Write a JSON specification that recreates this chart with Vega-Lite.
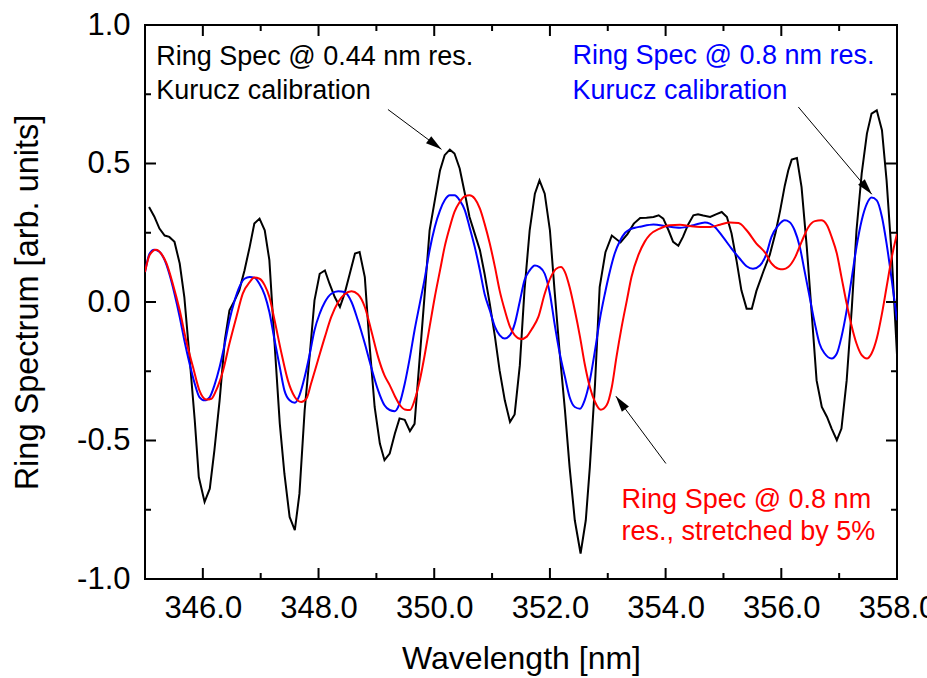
{
  "$schema": "https://vega.github.io/schema/vega-lite/v6.json",
  "width": 752,
  "height": 554,
  "autosize": {"type": "none"},
  "padding": {"left": 145, "top": 25, "right": 30, "bottom": 99},
  "background": "white",
  "config": {"view": {"stroke": "black", "strokeWidth": 2}, "font": "Liberation Sans", "text": {"font": "Liberation Sans"}},
  "datasets": {
    "frame_marks": [
      {"dim":"wl","level":"major","at":346},
      {"dim":"wl","level":"major","at":348},
      {"dim":"wl","level":"major","at":350},
      {"dim":"wl","level":"major","at":352},
      {"dim":"wl","level":"major","at":354},
      {"dim":"wl","level":"major","at":356},
      {"dim":"wl","level":"major","at":358},
      {"dim":"wl","level":"minor","at":345},
      {"dim":"wl","level":"minor","at":347},
      {"dim":"wl","level":"minor","at":349},
      {"dim":"wl","level":"minor","at":351},
      {"dim":"wl","level":"minor","at":353},
      {"dim":"wl","level":"minor","at":355},
      {"dim":"wl","level":"minor","at":357},
      {"dim":"rs","level":"major","at":-1},
      {"dim":"rs","level":"major","at":-0.5},
      {"dim":"rs","level":"major","at":0},
      {"dim":"rs","level":"major","at":0.5},
      {"dim":"rs","level":"major","at":1},
      {"dim":"rs","level":"minor","at":-0.75},
      {"dim":"rs","level":"minor","at":-0.25},
      {"dim":"rs","level":"minor","at":0.25},
      {"dim":"rs","level":"minor","at":0.75}
    ],
    "spectra": [
      {"series":"0.44 nm res.","wavelength":345.07,"value":0.343},
      {"series":"0.44 nm res.","wavelength":345.16,"value":0.309},
      {"series":"0.44 nm res.","wavelength":345.25,"value":0.265},
      {"series":"0.44 nm res.","wavelength":345.34,"value":0.240},
      {"series":"0.44 nm res.","wavelength":345.42,"value":0.235},
      {"series":"0.44 nm res.","wavelength":345.51,"value":0.217},
      {"series":"0.44 nm res.","wavelength":345.60,"value":0.139},
      {"series":"0.44 nm res.","wavelength":345.68,"value":0.018},
      {"series":"0.44 nm res.","wavelength":345.77,"value":-0.199},
      {"series":"0.44 nm res.","wavelength":345.86,"value":-0.427},
      {"series":"0.44 nm res.","wavelength":345.93,"value":-0.632},
      {"series":"0.44 nm res.","wavelength":346.03,"value":-0.722},
      {"series":"0.44 nm res.","wavelength":346.12,"value":-0.674},
      {"series":"0.44 nm res.","wavelength":346.20,"value":-0.535},
      {"series":"0.44 nm res.","wavelength":346.29,"value":-0.355},
      {"series":"0.44 nm res.","wavelength":346.38,"value":-0.138},
      {"series":"0.44 nm res.","wavelength":346.46,"value":-0.030},
      {"series":"0.44 nm res.","wavelength":346.55,"value":0.006},
      {"series":"0.44 nm res.","wavelength":346.63,"value":0.042},
      {"series":"0.44 nm res.","wavelength":346.72,"value":0.114},
      {"series":"0.44 nm res.","wavelength":346.81,"value":0.199},
      {"series":"0.44 nm res.","wavelength":346.89,"value":0.283},
      {"series":"0.44 nm res.","wavelength":346.98,"value":0.301},
      {"series":"0.44 nm res.","wavelength":347.07,"value":0.259},
      {"series":"0.44 nm res.","wavelength":347.15,"value":0.151},
      {"series":"0.44 nm res.","wavelength":347.24,"value":-0.150},
      {"series":"0.44 nm res.","wavelength":347.33,"value":-0.439},
      {"series":"0.44 nm res.","wavelength":347.41,"value":-0.620},
      {"series":"0.44 nm res.","wavelength":347.50,"value":-0.776},
      {"series":"0.44 nm res.","wavelength":347.59,"value":-0.824},
      {"series":"0.44 nm res.","wavelength":347.67,"value":-0.692},
      {"series":"0.44 nm res.","wavelength":347.76,"value":-0.391},
      {"series":"0.44 nm res.","wavelength":347.85,"value":-0.186},
      {"series":"0.44 nm res.","wavelength":347.93,"value":0.006},
      {"series":"0.44 nm res.","wavelength":348.02,"value":0.102},
      {"series":"0.44 nm res.","wavelength":348.11,"value":0.114},
      {"series":"0.44 nm res.","wavelength":348.19,"value":0.066},
      {"series":"0.44 nm res.","wavelength":348.28,"value":0.018},
      {"series":"0.44 nm res.","wavelength":348.37,"value":-0.018},
      {"series":"0.44 nm res.","wavelength":348.45,"value":0.030},
      {"series":"0.44 nm res.","wavelength":348.54,"value":0.102},
      {"series":"0.44 nm res.","wavelength":348.63,"value":0.175},
      {"series":"0.44 nm res.","wavelength":348.71,"value":0.180},
      {"series":"0.44 nm res.","wavelength":348.80,"value":0.090},
      {"series":"0.44 nm res.","wavelength":348.88,"value":-0.150},
      {"series":"0.44 nm res.","wavelength":348.97,"value":-0.379},
      {"series":"0.44 nm res.","wavelength":349.06,"value":-0.511},
      {"series":"0.44 nm res.","wavelength":349.14,"value":-0.571},
      {"series":"0.44 nm res.","wavelength":349.23,"value":-0.547},
      {"series":"0.44 nm res.","wavelength":349.32,"value":-0.475},
      {"series":"0.44 nm res.","wavelength":349.40,"value":-0.420},
      {"series":"0.44 nm res.","wavelength":349.49,"value":-0.425},
      {"series":"0.44 nm res.","wavelength":349.58,"value":-0.466},
      {"series":"0.44 nm res.","wavelength":349.66,"value":-0.440},
      {"series":"0.44 nm res.","wavelength":349.75,"value":-0.199},
      {"series":"0.44 nm res.","wavelength":349.84,"value":0.042},
      {"series":"0.44 nm res.","wavelength":349.92,"value":0.259},
      {"series":"0.44 nm res.","wavelength":350.01,"value":0.367},
      {"series":"0.44 nm res.","wavelength":350.10,"value":0.475},
      {"series":"0.44 nm res.","wavelength":350.18,"value":0.530},
      {"series":"0.44 nm res.","wavelength":350.27,"value":0.550},
      {"series":"0.44 nm res.","wavelength":350.35,"value":0.536},
      {"series":"0.44 nm res.","wavelength":350.44,"value":0.482},
      {"series":"0.44 nm res.","wavelength":350.53,"value":0.391},
      {"series":"0.44 nm res.","wavelength":350.61,"value":0.307},
      {"series":"0.44 nm res.","wavelength":350.70,"value":0.247},
      {"series":"0.44 nm res.","wavelength":350.79,"value":0.187},
      {"series":"0.44 nm res.","wavelength":350.87,"value":0.102},
      {"series":"0.44 nm res.","wavelength":350.96,"value":-0.006},
      {"series":"0.44 nm res.","wavelength":351.05,"value":-0.126},
      {"series":"0.44 nm res.","wavelength":351.13,"value":-0.247},
      {"series":"0.44 nm res.","wavelength":351.22,"value":-0.355},
      {"series":"0.44 nm res.","wavelength":351.31,"value":-0.433},
      {"series":"0.44 nm res.","wavelength":351.39,"value":-0.406},
      {"series":"0.44 nm res.","wavelength":351.48,"value":-0.228},
      {"series":"0.44 nm res.","wavelength":351.56,"value":0.042},
      {"series":"0.44 nm res.","wavelength":351.65,"value":0.259},
      {"series":"0.44 nm res.","wavelength":351.74,"value":0.391},
      {"series":"0.44 nm res.","wavelength":351.82,"value":0.439},
      {"series":"0.44 nm res.","wavelength":351.91,"value":0.391},
      {"series":"0.44 nm res.","wavelength":352.00,"value":0.259},
      {"series":"0.44 nm res.","wavelength":352.08,"value":0.042},
      {"series":"0.44 nm res.","wavelength":352.17,"value":-0.186},
      {"series":"0.44 nm res.","wavelength":352.26,"value":-0.391},
      {"series":"0.44 nm res.","wavelength":352.34,"value":-0.596},
      {"series":"0.44 nm res.","wavelength":352.43,"value":-0.788},
      {"series":"0.44 nm res.","wavelength":352.53,"value":-0.908},
      {"series":"0.44 nm res.","wavelength":352.62,"value":-0.788},
      {"series":"0.44 nm res.","wavelength":352.69,"value":-0.596},
      {"series":"0.44 nm res.","wavelength":352.78,"value":-0.295},
      {"series":"0.44 nm res.","wavelength":352.86,"value":0.054},
      {"series":"0.44 nm res.","wavelength":352.96,"value":0.180},
      {"series":"0.44 nm res.","wavelength":353.07,"value":0.240},
      {"series":"0.44 nm res.","wavelength":353.22,"value":0.215},
      {"series":"0.44 nm res.","wavelength":353.34,"value":0.245},
      {"series":"0.44 nm res.","wavelength":353.45,"value":0.283},
      {"series":"0.44 nm res.","wavelength":353.56,"value":0.303},
      {"series":"0.44 nm res.","wavelength":353.67,"value":0.304},
      {"series":"0.44 nm res.","wavelength":353.79,"value":0.307},
      {"series":"0.44 nm res.","wavelength":353.88,"value":0.313},
      {"series":"0.44 nm res.","wavelength":353.96,"value":0.301},
      {"series":"0.44 nm res.","wavelength":354.05,"value":0.259},
      {"series":"0.44 nm res.","wavelength":354.13,"value":0.217},
      {"series":"0.44 nm res.","wavelength":354.22,"value":0.203},
      {"series":"0.44 nm res.","wavelength":354.30,"value":0.235},
      {"series":"0.44 nm res.","wavelength":354.39,"value":0.280},
      {"series":"0.44 nm res.","wavelength":354.48,"value":0.313},
      {"series":"0.44 nm res.","wavelength":354.56,"value":0.317},
      {"series":"0.44 nm res.","wavelength":354.65,"value":0.312},
      {"series":"0.44 nm res.","wavelength":354.77,"value":0.307},
      {"series":"0.44 nm res.","wavelength":354.88,"value":0.317},
      {"series":"0.44 nm res.","wavelength":354.97,"value":0.325},
      {"series":"0.44 nm res.","wavelength":355.06,"value":0.307},
      {"series":"0.44 nm res.","wavelength":355.14,"value":0.247},
      {"series":"0.44 nm res.","wavelength":355.23,"value":0.145},
      {"series":"0.44 nm res.","wavelength":355.31,"value":0.042},
      {"series":"0.44 nm res.","wavelength":355.40,"value":-0.024},
      {"series":"0.44 nm res.","wavelength":355.49,"value":-0.024},
      {"series":"0.44 nm res.","wavelength":355.57,"value":0.040},
      {"series":"0.44 nm res.","wavelength":355.69,"value":0.110},
      {"series":"0.44 nm res.","wavelength":355.80,"value":0.170},
      {"series":"0.44 nm res.","wavelength":355.90,"value":0.250},
      {"series":"0.44 nm res.","wavelength":355.98,"value":0.330},
      {"series":"0.44 nm res.","wavelength":356.06,"value":0.420},
      {"series":"0.44 nm res.","wavelength":356.12,"value":0.475},
      {"series":"0.44 nm res.","wavelength":356.18,"value":0.514},
      {"series":"0.44 nm res.","wavelength":356.27,"value":0.520},
      {"series":"0.44 nm res.","wavelength":356.35,"value":0.415},
      {"series":"0.44 nm res.","wavelength":356.44,"value":0.199},
      {"series":"0.44 nm res.","wavelength":356.53,"value":-0.054},
      {"series":"0.44 nm res.","wavelength":356.61,"value":-0.283},
      {"series":"0.44 nm res.","wavelength":356.70,"value":-0.379},
      {"series":"0.44 nm res.","wavelength":356.79,"value":-0.415},
      {"series":"0.44 nm res.","wavelength":356.87,"value":-0.457},
      {"series":"0.44 nm res.","wavelength":356.96,"value":-0.499},
      {"series":"0.44 nm res.","wavelength":357.04,"value":-0.457},
      {"series":"0.44 nm res.","wavelength":357.13,"value":-0.283},
      {"series":"0.44 nm res.","wavelength":357.22,"value":-0.018},
      {"series":"0.44 nm res.","wavelength":357.30,"value":0.259},
      {"series":"0.44 nm res.","wavelength":357.39,"value":0.464},
      {"series":"0.44 nm res.","wavelength":357.48,"value":0.608},
      {"series":"0.44 nm res.","wavelength":357.56,"value":0.680},
      {"series":"0.44 nm res.","wavelength":357.65,"value":0.692},
      {"series":"0.44 nm res.","wavelength":357.74,"value":0.620},
      {"series":"0.44 nm res.","wavelength":357.82,"value":0.439},
      {"series":"0.44 nm res.","wavelength":357.91,"value":0.162},
      {"series":"0.44 nm res.","wavelength":358.00,"value":-0.190},

      {"series":"0.8 nm res.","wavelength":345.00,"value":0.108},
      {"series":"0.8 nm res.","wavelength":345.08,"value":0.175},
      {"series":"0.8 nm res.","wavelength":345.16,"value":0.189},
      {"series":"0.8 nm res.","wavelength":345.25,"value":0.181},
      {"series":"0.8 nm res.","wavelength":345.34,"value":0.151},
      {"series":"0.8 nm res.","wavelength":345.42,"value":0.102},
      {"series":"0.8 nm res.","wavelength":345.51,"value":0.030},
      {"series":"0.8 nm res.","wavelength":345.60,"value":-0.054},
      {"series":"0.8 nm res.","wavelength":345.68,"value":-0.138},
      {"series":"0.8 nm res.","wavelength":345.77,"value":-0.222},
      {"series":"0.8 nm res.","wavelength":345.86,"value":-0.295},
      {"series":"0.8 nm res.","wavelength":345.94,"value":-0.343},
      {"series":"0.8 nm res.","wavelength":346.03,"value":-0.355},
      {"series":"0.8 nm res.","wavelength":346.12,"value":-0.343},
      {"series":"0.8 nm res.","wavelength":346.20,"value":-0.301},
      {"series":"0.8 nm res.","wavelength":346.29,"value":-0.235},
      {"series":"0.8 nm res.","wavelength":346.38,"value":-0.150},
      {"series":"0.8 nm res.","wavelength":346.46,"value":-0.066},
      {"series":"0.8 nm res.","wavelength":346.55,"value":0.006},
      {"series":"0.8 nm res.","wavelength":346.63,"value":0.054},
      {"series":"0.8 nm res.","wavelength":346.72,"value":0.084},
      {"series":"0.8 nm res.","wavelength":346.81,"value":0.090},
      {"series":"0.8 nm res.","wavelength":346.89,"value":0.088},
      {"series":"0.8 nm res.","wavelength":346.98,"value":0.065},
      {"series":"0.8 nm res.","wavelength":347.07,"value":0.025},
      {"series":"0.8 nm res.","wavelength":347.15,"value":-0.036},
      {"series":"0.8 nm res.","wavelength":347.24,"value":-0.138},
      {"series":"0.8 nm res.","wavelength":347.33,"value":-0.235},
      {"series":"0.8 nm res.","wavelength":347.41,"value":-0.319},
      {"series":"0.8 nm res.","wavelength":347.50,"value":-0.355},
      {"series":"0.8 nm res.","wavelength":347.59,"value":-0.364},
      {"series":"0.8 nm res.","wavelength":347.67,"value":-0.337},
      {"series":"0.8 nm res.","wavelength":347.76,"value":-0.271},
      {"series":"0.8 nm res.","wavelength":347.85,"value":-0.186},
      {"series":"0.8 nm res.","wavelength":347.93,"value":-0.102},
      {"series":"0.8 nm res.","wavelength":348.02,"value":-0.042},
      {"series":"0.8 nm res.","wavelength":348.11,"value":0.000},
      {"series":"0.8 nm res.","wavelength":348.22,"value":0.030},
      {"series":"0.8 nm res.","wavelength":348.34,"value":0.039},
      {"series":"0.8 nm res.","wavelength":348.45,"value":0.036},
      {"series":"0.8 nm res.","wavelength":348.57,"value":0.000},
      {"series":"0.8 nm res.","wavelength":348.68,"value":-0.066},
      {"series":"0.8 nm res.","wavelength":348.80,"value":-0.150},
      {"series":"0.8 nm res.","wavelength":348.91,"value":-0.235},
      {"series":"0.8 nm res.","wavelength":349.03,"value":-0.319},
      {"series":"0.8 nm res.","wavelength":349.14,"value":-0.373},
      {"series":"0.8 nm res.","wavelength":349.23,"value":-0.390},
      {"series":"0.8 nm res.","wavelength":349.32,"value":-0.394},
      {"series":"0.8 nm res.","wavelength":349.40,"value":-0.367},
      {"series":"0.8 nm res.","wavelength":349.49,"value":-0.295},
      {"series":"0.8 nm res.","wavelength":349.58,"value":-0.199},
      {"series":"0.8 nm res.","wavelength":349.66,"value":-0.102},
      {"series":"0.8 nm res.","wavelength":349.75,"value":-0.006},
      {"series":"0.8 nm res.","wavelength":349.84,"value":0.090},
      {"series":"0.8 nm res.","wavelength":349.92,"value":0.187},
      {"series":"0.8 nm res.","wavelength":350.01,"value":0.271},
      {"series":"0.8 nm res.","wavelength":350.10,"value":0.331},
      {"series":"0.8 nm res.","wavelength":350.18,"value":0.367},
      {"series":"0.8 nm res.","wavelength":350.27,"value":0.385},
      {"series":"0.8 nm res.","wavelength":350.35,"value":0.385},
      {"series":"0.8 nm res.","wavelength":350.44,"value":0.367},
      {"series":"0.8 nm res.","wavelength":350.53,"value":0.331},
      {"series":"0.8 nm res.","wavelength":350.61,"value":0.271},
      {"series":"0.8 nm res.","wavelength":350.70,"value":0.199},
      {"series":"0.8 nm res.","wavelength":350.79,"value":0.114},
      {"series":"0.8 nm res.","wavelength":350.87,"value":0.030},
      {"series":"0.8 nm res.","wavelength":350.96,"value":-0.030},
      {"series":"0.8 nm res.","wavelength":351.05,"value":-0.090},
      {"series":"0.8 nm res.","wavelength":351.13,"value":-0.120},
      {"series":"0.8 nm res.","wavelength":351.22,"value":-0.132},
      {"series":"0.8 nm res.","wavelength":351.31,"value":-0.120},
      {"series":"0.8 nm res.","wavelength":351.39,"value":-0.080},
      {"series":"0.8 nm res.","wavelength":351.48,"value":0.003},
      {"series":"0.8 nm res.","wavelength":351.56,"value":0.078},
      {"series":"0.8 nm res.","wavelength":351.65,"value":0.114},
      {"series":"0.8 nm res.","wavelength":351.74,"value":0.132},
      {"series":"0.8 nm res.","wavelength":351.82,"value":0.126},
      {"series":"0.8 nm res.","wavelength":351.91,"value":0.102},
      {"series":"0.8 nm res.","wavelength":352.00,"value":0.030},
      {"series":"0.8 nm res.","wavelength":352.08,"value":-0.078},
      {"series":"0.8 nm res.","wavelength":352.17,"value":-0.186},
      {"series":"0.8 nm res.","wavelength":352.26,"value":-0.271},
      {"series":"0.8 nm res.","wavelength":352.34,"value":-0.343},
      {"series":"0.8 nm res.","wavelength":352.43,"value":-0.379},
      {"series":"0.8 nm res.","wavelength":352.52,"value":-0.385},
      {"series":"0.8 nm res.","wavelength":352.60,"value":-0.355},
      {"series":"0.8 nm res.","wavelength":352.69,"value":-0.283},
      {"series":"0.8 nm res.","wavelength":352.78,"value":-0.174},
      {"series":"0.8 nm res.","wavelength":352.86,"value":-0.066},
      {"series":"0.8 nm res.","wavelength":352.95,"value":0.030},
      {"series":"0.8 nm res.","wavelength":353.04,"value":0.114},
      {"series":"0.8 nm res.","wavelength":353.12,"value":0.175},
      {"series":"0.8 nm res.","wavelength":353.21,"value":0.220},
      {"series":"0.8 nm res.","wavelength":353.30,"value":0.250},
      {"series":"0.8 nm res.","wavelength":353.38,"value":0.262},
      {"series":"0.8 nm res.","wavelength":353.47,"value":0.268},
      {"series":"0.8 nm res.","wavelength":353.56,"value":0.272},
      {"series":"0.8 nm res.","wavelength":353.79,"value":0.280},
      {"series":"0.8 nm res.","wavelength":354.02,"value":0.273},
      {"series":"0.8 nm res.","wavelength":354.25,"value":0.268},
      {"series":"0.8 nm res.","wavelength":354.48,"value":0.277},
      {"series":"0.8 nm res.","wavelength":354.68,"value":0.287},
      {"series":"0.8 nm res.","wavelength":354.85,"value":0.271},
      {"series":"0.8 nm res.","wavelength":354.99,"value":0.235},
      {"series":"0.8 nm res.","wavelength":355.14,"value":0.193},
      {"series":"0.8 nm res.","wavelength":355.28,"value":0.157},
      {"series":"0.8 nm res.","wavelength":355.40,"value":0.129},
      {"series":"0.8 nm res.","wavelength":355.51,"value":0.120},
      {"series":"0.8 nm res.","wavelength":355.63,"value":0.132},
      {"series":"0.8 nm res.","wavelength":355.74,"value":0.172},
      {"series":"0.8 nm res.","wavelength":355.83,"value":0.235},
      {"series":"0.8 nm res.","wavelength":355.95,"value":0.277},
      {"series":"0.8 nm res.","wavelength":356.06,"value":0.295},
      {"series":"0.8 nm res.","wavelength":356.14,"value":0.289},
      {"series":"0.8 nm res.","wavelength":356.23,"value":0.259},
      {"series":"0.8 nm res.","wavelength":356.32,"value":0.199},
      {"series":"0.8 nm res.","wavelength":356.40,"value":0.114},
      {"series":"0.8 nm res.","wavelength":356.49,"value":0.018},
      {"series":"0.8 nm res.","wavelength":356.58,"value":-0.078},
      {"series":"0.8 nm res.","wavelength":356.66,"value":-0.150},
      {"series":"0.8 nm res.","wavelength":356.75,"value":-0.186},
      {"series":"0.8 nm res.","wavelength":356.87,"value":-0.204},
      {"series":"0.8 nm res.","wavelength":356.96,"value":-0.186},
      {"series":"0.8 nm res.","wavelength":357.04,"value":-0.126},
      {"series":"0.8 nm res.","wavelength":357.13,"value":-0.030},
      {"series":"0.8 nm res.","wavelength":357.22,"value":0.090},
      {"series":"0.8 nm res.","wavelength":357.30,"value":0.199},
      {"series":"0.8 nm res.","wavelength":357.39,"value":0.295},
      {"series":"0.8 nm res.","wavelength":357.48,"value":0.355},
      {"series":"0.8 nm res.","wavelength":357.56,"value":0.377},
      {"series":"0.8 nm res.","wavelength":357.65,"value":0.367},
      {"series":"0.8 nm res.","wavelength":357.74,"value":0.307},
      {"series":"0.8 nm res.","wavelength":357.82,"value":0.211},
      {"series":"0.8 nm res.","wavelength":357.91,"value":0.078},
      {"series":"0.8 nm res.","wavelength":358.00,"value":-0.066},

      {"series":"0.8 nm res., stretched by 5%","wavelength":345.00,"value":0.108},
      {"series":"0.8 nm res., stretched by 5%","wavelength":345.08,"value":0.170},
      {"series":"0.8 nm res., stretched by 5%","wavelength":345.19,"value":0.189},
      {"series":"0.8 nm res., stretched by 5%","wavelength":345.28,"value":0.175},
      {"series":"0.8 nm res., stretched by 5%","wavelength":345.37,"value":0.140},
      {"series":"0.8 nm res., stretched by 5%","wavelength":345.48,"value":0.066},
      {"series":"0.8 nm res., stretched by 5%","wavelength":345.60,"value":-0.030},
      {"series":"0.8 nm res., stretched by 5%","wavelength":345.71,"value":-0.138},
      {"series":"0.8 nm res., stretched by 5%","wavelength":345.83,"value":-0.235},
      {"series":"0.8 nm res., stretched by 5%","wavelength":345.94,"value":-0.319},
      {"series":"0.8 nm res., stretched by 5%","wavelength":346.06,"value":-0.352},
      {"series":"0.8 nm res., stretched by 5%","wavelength":346.15,"value":-0.349},
      {"series":"0.8 nm res., stretched by 5%","wavelength":346.23,"value":-0.319},
      {"series":"0.8 nm res., stretched by 5%","wavelength":346.35,"value":-0.247},
      {"series":"0.8 nm res., stretched by 5%","wavelength":346.46,"value":-0.150},
      {"series":"0.8 nm res., stretched by 5%","wavelength":346.58,"value":-0.054},
      {"series":"0.8 nm res., stretched by 5%","wavelength":346.69,"value":0.030},
      {"series":"0.8 nm res., stretched by 5%","wavelength":346.81,"value":0.072},
      {"series":"0.8 nm res., stretched by 5%","wavelength":346.89,"value":0.088},
      {"series":"0.8 nm res., stretched by 5%","wavelength":346.98,"value":0.084},
      {"series":"0.8 nm res., stretched by 5%","wavelength":347.07,"value":0.060},
      {"series":"0.8 nm res., stretched by 5%","wavelength":347.15,"value":0.018},
      {"series":"0.8 nm res., stretched by 5%","wavelength":347.24,"value":-0.066},
      {"series":"0.8 nm res., stretched by 5%","wavelength":347.36,"value":-0.186},
      {"series":"0.8 nm res., stretched by 5%","wavelength":347.47,"value":-0.283},
      {"series":"0.8 nm res., stretched by 5%","wavelength":347.59,"value":-0.343},
      {"series":"0.8 nm res., stretched by 5%","wavelength":347.70,"value":-0.361},
      {"series":"0.8 nm res., stretched by 5%","wavelength":347.79,"value":-0.349},
      {"series":"0.8 nm res., stretched by 5%","wavelength":347.87,"value":-0.295},
      {"series":"0.8 nm res., stretched by 5%","wavelength":347.99,"value":-0.210},
      {"series":"0.8 nm res., stretched by 5%","wavelength":348.11,"value":-0.126},
      {"series":"0.8 nm res., stretched by 5%","wavelength":348.22,"value":-0.054},
      {"series":"0.8 nm res., stretched by 5%","wavelength":348.34,"value":0.000},
      {"series":"0.8 nm res., stretched by 5%","wavelength":348.45,"value":0.028},
      {"series":"0.8 nm res., stretched by 5%","wavelength":348.57,"value":0.039},
      {"series":"0.8 nm res., stretched by 5%","wavelength":348.68,"value":0.028},
      {"series":"0.8 nm res., stretched by 5%","wavelength":348.80,"value":-0.018},
      {"series":"0.8 nm res., stretched by 5%","wavelength":348.91,"value":-0.102},
      {"series":"0.8 nm res., stretched by 5%","wavelength":349.03,"value":-0.199},
      {"series":"0.8 nm res., stretched by 5%","wavelength":349.14,"value":-0.265},
      {"series":"0.8 nm res., stretched by 5%","wavelength":349.23,"value":-0.300},
      {"series":"0.8 nm res., stretched by 5%","wavelength":349.32,"value":-0.340},
      {"series":"0.8 nm res., stretched by 5%","wavelength":349.40,"value":-0.370},
      {"series":"0.8 nm res., stretched by 5%","wavelength":349.49,"value":-0.388},
      {"series":"0.8 nm res., stretched by 5%","wavelength":349.58,"value":-0.390},
      {"series":"0.8 nm res., stretched by 5%","wavelength":349.66,"value":-0.355},
      {"series":"0.8 nm res., stretched by 5%","wavelength":349.75,"value":-0.283},
      {"series":"0.8 nm res., stretched by 5%","wavelength":349.84,"value":-0.186},
      {"series":"0.8 nm res., stretched by 5%","wavelength":349.92,"value":-0.090},
      {"series":"0.8 nm res., stretched by 5%","wavelength":350.01,"value":0.018},
      {"series":"0.8 nm res., stretched by 5%","wavelength":350.10,"value":0.114},
      {"series":"0.8 nm res., stretched by 5%","wavelength":350.18,"value":0.199},
      {"series":"0.8 nm res., stretched by 5%","wavelength":350.27,"value":0.271},
      {"series":"0.8 nm res., stretched by 5%","wavelength":350.35,"value":0.325},
      {"series":"0.8 nm res., stretched by 5%","wavelength":350.44,"value":0.361},
      {"series":"0.8 nm res., stretched by 5%","wavelength":350.53,"value":0.382},
      {"series":"0.8 nm res., stretched by 5%","wavelength":350.61,"value":0.385},
      {"series":"0.8 nm res., stretched by 5%","wavelength":350.70,"value":0.373},
      {"series":"0.8 nm res., stretched by 5%","wavelength":350.79,"value":0.337},
      {"series":"0.8 nm res., stretched by 5%","wavelength":350.87,"value":0.283},
      {"series":"0.8 nm res., stretched by 5%","wavelength":350.96,"value":0.211},
      {"series":"0.8 nm res., stretched by 5%","wavelength":351.05,"value":0.126},
      {"series":"0.8 nm res., stretched by 5%","wavelength":351.13,"value":0.042},
      {"series":"0.8 nm res., stretched by 5%","wavelength":351.22,"value":-0.030},
      {"series":"0.8 nm res., stretched by 5%","wavelength":351.31,"value":-0.090},
      {"series":"0.8 nm res., stretched by 5%","wavelength":351.39,"value":-0.120},
      {"series":"0.8 nm res., stretched by 5%","wavelength":351.50,"value":-0.134},
      {"series":"0.8 nm res., stretched by 5%","wavelength":351.60,"value":-0.125},
      {"series":"0.8 nm res., stretched by 5%","wavelength":351.68,"value":-0.100},
      {"series":"0.8 nm res., stretched by 5%","wavelength":351.80,"value":-0.054},
      {"series":"0.8 nm res., stretched by 5%","wavelength":351.91,"value":0.030},
      {"series":"0.8 nm res., stretched by 5%","wavelength":352.03,"value":0.096},
      {"series":"0.8 nm res., stretched by 5%","wavelength":352.11,"value":0.120},
      {"series":"0.8 nm res., stretched by 5%","wavelength":352.19,"value":0.126},
      {"series":"0.8 nm res., stretched by 5%","wavelength":352.26,"value":0.108},
      {"series":"0.8 nm res., stretched by 5%","wavelength":352.34,"value":0.054},
      {"series":"0.8 nm res., stretched by 5%","wavelength":352.43,"value":-0.030},
      {"series":"0.8 nm res., stretched by 5%","wavelength":352.52,"value":-0.126},
      {"series":"0.8 nm res., stretched by 5%","wavelength":352.60,"value":-0.222},
      {"series":"0.8 nm res., stretched by 5%","wavelength":352.69,"value":-0.307},
      {"series":"0.8 nm res., stretched by 5%","wavelength":352.78,"value":-0.361},
      {"series":"0.8 nm res., stretched by 5%","wavelength":352.88,"value":-0.389},
      {"series":"0.8 nm res., stretched by 5%","wavelength":352.98,"value":-0.373},
      {"series":"0.8 nm res., stretched by 5%","wavelength":353.07,"value":-0.307},
      {"series":"0.8 nm res., stretched by 5%","wavelength":353.15,"value":-0.199},
      {"series":"0.8 nm res., stretched by 5%","wavelength":353.24,"value":-0.090},
      {"series":"0.8 nm res., stretched by 5%","wavelength":353.33,"value":0.006},
      {"series":"0.8 nm res., stretched by 5%","wavelength":353.41,"value":0.090},
      {"series":"0.8 nm res., stretched by 5%","wavelength":353.53,"value":0.170},
      {"series":"0.8 nm res., stretched by 5%","wavelength":353.64,"value":0.218},
      {"series":"0.8 nm res., stretched by 5%","wavelength":353.73,"value":0.243},
      {"series":"0.8 nm res., stretched by 5%","wavelength":353.90,"value":0.265},
      {"series":"0.8 nm res., stretched by 5%","wavelength":354.07,"value":0.277},
      {"series":"0.8 nm res., stretched by 5%","wavelength":354.25,"value":0.279},
      {"series":"0.8 nm res., stretched by 5%","wavelength":354.42,"value":0.274},
      {"series":"0.8 nm res., stretched by 5%","wavelength":354.60,"value":0.271},
      {"series":"0.8 nm res., stretched by 5%","wavelength":354.77,"value":0.271},
      {"series":"0.8 nm res., stretched by 5%","wavelength":354.94,"value":0.279},
      {"series":"0.8 nm res., stretched by 5%","wavelength":355.11,"value":0.287},
      {"series":"0.8 nm res., stretched by 5%","wavelength":355.26,"value":0.285},
      {"series":"0.8 nm res., stretched by 5%","wavelength":355.40,"value":0.259},
      {"series":"0.8 nm res., stretched by 5%","wavelength":355.57,"value":0.211},
      {"series":"0.8 nm res., stretched by 5%","wavelength":355.72,"value":0.178},
      {"series":"0.8 nm res., stretched by 5%","wavelength":355.83,"value":0.139},
      {"series":"0.8 nm res., stretched by 5%","wavelength":355.95,"value":0.120},
      {"series":"0.8 nm res., stretched by 5%","wavelength":356.03,"value":0.118},
      {"series":"0.8 nm res., stretched by 5%","wavelength":356.12,"value":0.126},
      {"series":"0.8 nm res., stretched by 5%","wavelength":356.24,"value":0.162},
      {"series":"0.8 nm res., stretched by 5%","wavelength":356.35,"value":0.217},
      {"series":"0.8 nm res., stretched by 5%","wavelength":356.47,"value":0.271},
      {"series":"0.8 nm res., stretched by 5%","wavelength":356.58,"value":0.292},
      {"series":"0.8 nm res., stretched by 5%","wavelength":356.69,"value":0.295},
      {"series":"0.8 nm res., stretched by 5%","wavelength":356.79,"value":0.277},
      {"series":"0.8 nm res., stretched by 5%","wavelength":356.87,"value":0.235},
      {"series":"0.8 nm res., stretched by 5%","wavelength":356.96,"value":0.175},
      {"series":"0.8 nm res., stretched by 5%","wavelength":357.04,"value":0.090},
      {"series":"0.8 nm res., stretched by 5%","wavelength":357.13,"value":-0.006},
      {"series":"0.8 nm res., stretched by 5%","wavelength":357.22,"value":-0.090},
      {"series":"0.8 nm res., stretched by 5%","wavelength":357.30,"value":-0.150},
      {"series":"0.8 nm res., stretched by 5%","wavelength":357.39,"value":-0.192},
      {"series":"0.8 nm res., stretched by 5%","wavelength":357.48,"value":-0.204},
      {"series":"0.8 nm res., stretched by 5%","wavelength":357.56,"value":-0.186},
      {"series":"0.8 nm res., stretched by 5%","wavelength":357.65,"value":-0.132},
      {"series":"0.8 nm res., stretched by 5%","wavelength":357.74,"value":-0.042},
      {"series":"0.8 nm res., stretched by 5%","wavelength":357.82,"value":0.054},
      {"series":"0.8 nm res., stretched by 5%","wavelength":357.91,"value":0.162},
      {"series":"0.8 nm res., stretched by 5%","wavelength":358.00,"value":0.247}
    ],
    "notes": [
      {"series":"0.44 nm res.","wavelength":345.194,"value":0.8545,"text":"Ring Spec @ 0.44 nm res."},
      {"series":"0.44 nm res.","wavelength":345.194,"value":0.734,"text":"Kurucz calibration"},
      {"series":"0.8 nm res.","wavelength":352.391,"value":0.858,"text":"Ring Spec @ 0.8 nm res."},
      {"series":"0.8 nm res.","wavelength":352.391,"value":0.734,"text":"Kurucz calibration"},
      {"series":"0.8 nm res., stretched by 5%","wavelength":353.239,"value":-0.742,"text":"Ring Spec @ 0.8 nm"},
      {"series":"0.8 nm res., stretched by 5%","wavelength":353.239,"value":-0.860,"text":"res., stretched by 5%"}
    ],
    "arrows": [
      {"series":"0.44 nm res.","wavelength":349.20,"value":0.695,"wavelength2":350.125,"value2":0.551},
      {"series":"0.8 nm res.","wavelength":356.294,"value":0.704,"wavelength2":357.564,"value2":0.389},
      {"series":"0.8 nm res., stretched by 5%","wavelength":354.005,"value":-0.583,"wavelength2":353.14,"value2":-0.340}
    ]
  },
  "layer": [
    {
      "data": {"name": "spectra"},
      "transform": [{"filter": "datum.series === '0.44 nm res.'"}],
      "mark": {"type": "line", "strokeWidth": 2, "clip": true},
      "encoding": {
        "x": {
          "field": "wavelength", "type": "quantitative",
          "scale": {"domain": [345, 358], "nice": false, "zero": false},
          "axis": {
            "orient": "bottom",
            "values": [346,348,350,352,354,356,358],
            "ticks": false,
            "domain": false,
            "labelPadding": 38,
            "labelBaseline": "alphabetic",
            "labelFontSize": 31,
            "labelFont": "Liberation Sans",
            "labelColor": "black",
            "labelFlush": false,
            "labelOverlap": false,
            "title": "Wavelength [nm]",
            "titleFont": "Liberation Sans",
            "titleFontSize": 32,
            "titleFontWeight": "normal",
            "titleColor": "black",
            "titleBaseline": "alphabetic",
            "titleY": 89,
            "grid": false
          }
        },
        "y": {
          "field": "value", "type": "quantitative",
          "scale": {"domain": [-1, 1], "nice": false, "zero": false},
          "axis": {
            "orient": "left",
            "values": [-1,-0.5,0,0.5,1],
            "ticks": false,
            "domain": false,
            "labelExpr": "replace(format(datum.value, '.1f'), '\u2212', '-')",
            "labelPadding": 15,
            "labelFontSize": 31,
            "labelFont": "Liberation Sans",
            "labelColor": "black",
            "labelFlush": false,
            "labelOverlap": false,
            "title": "Ring Spectrum [arb. units]",
            "titleFont": "Liberation Sans",
            "titleFontSize": 32.5,
            "titleFontWeight": "normal",
            "titleColor": "black",
            "titleBaseline": "alphabetic",
            "titleX": -108,
            "titleY": 277,
            "grid": false
          }
        },
        "color": {
          "field": "series", "type": "nominal",
          "scale": {"domain": ["0.44 nm res.", "0.8 nm res.", "0.8 nm res., stretched by 5%"], "range": ["#000000", "#0000ff", "#ff0000"]},
          "legend": null
        }
      }
    },
    {
      "data": {"name": "spectra"},
      "transform": [{"filter": "datum.series !== '0.44 nm res.'"}],
      "mark": {"type": "line", "strokeWidth": 2, "interpolate": "monotone", "clip": true},
      "encoding": {
        "x": {"field": "wavelength", "type": "quantitative", "scale": {"domain": [345, 358], "nice": false, "zero": false}},
        "y": {"field": "value", "type": "quantitative", "scale": {"domain": [-1, 1], "nice": false, "zero": false}},
        "color": {"field": "series", "type": "nominal", "legend": null}
      }
    },
    {
      "data": {"name": "frame_marks"},
      "transform": [{"filter": "datum.dim == 'wl'"}, {"filter": "datum.level == 'major'"}],
      "mark": {"type": "rule", "color": "black", "strokeWidth": 2, "strokeDash": [11, 532, 11]},
      "encoding": {
        "x": {"field": "at", "type": "quantitative", "scale": {"domain": [345, 358], "nice": false, "zero": false}}
      }
    },
    {
      "data": {"name": "frame_marks"},
      "transform": [{"filter": "datum.dim == 'wl'"}, {"filter": "datum.level == 'minor'"}],
      "mark": {"type": "rule", "color": "black", "strokeWidth": 2, "strokeDash": [6, 542, 6]},
      "encoding": {
        "x": {"field": "at", "type": "quantitative", "scale": {"domain": [345, 358], "nice": false, "zero": false}}
      }
    },
    {
      "data": {"name": "frame_marks"},
      "transform": [{"filter": "datum.dim == 'rs'"}, {"filter": "datum.level == 'major'"}],
      "mark": {"type": "rule", "color": "black", "strokeWidth": 2, "strokeDash": [11, 730, 11]},
      "encoding": {
        "y": {"field": "at", "type": "quantitative", "scale": {"domain": [-1, 1], "nice": false, "zero": false}}
      }
    },
    {
      "data": {"name": "frame_marks"},
      "transform": [{"filter": "datum.dim == 'rs'"}, {"filter": "datum.level == 'minor'"}],
      "mark": {"type": "rule", "color": "black", "strokeWidth": 2, "strokeDash": [6, 740, 6]},
      "encoding": {
        "y": {"field": "at", "type": "quantitative", "scale": {"domain": [-1, 1], "nice": false, "zero": false}}
      }
    },
    {
      "data": {"name": "arrows"},
      "mark": {"type": "rule", "color": "black", "strokeWidth": 1},
      "encoding": {
        "x": {"field": "wavelength", "type": "quantitative", "scale": {"domain": [345, 358], "nice": false, "zero": false}},
        "y": {"field": "value", "type": "quantitative", "scale": {"domain": [-1, 1], "nice": false, "zero": false}},
        "x2": {"field": "wavelength2"},
        "y2": {"field": "value2"}
      }
    },
    {
      "data": {"name": "arrows"},
      "transform": [{"filter": "datum.series === '0.44 nm res.'"}],
      "mark": {"type": "point", "shape": "M0,0L-2,-0.55L-2,0.55Z", "filled": true, "size": 256, "angle": 36.6, "color": "black", "opacity": 1, "strokeWidth": 0},
      "encoding": {
        "x": {"field": "wavelength2", "type": "quantitative", "scale": {"domain": [345, 358], "nice": false, "zero": false}},
        "y": {"field": "value2", "type": "quantitative", "scale": {"domain": [-1, 1], "nice": false, "zero": false}}
      }
    },
    {
      "data": {"name": "arrows"},
      "transform": [{"filter": "datum.series === '0.8 nm res.'"}],
      "mark": {"type": "point", "shape": "M0,0L-2,-0.55L-2,0.55Z", "filled": true, "size": 256, "angle": 49.9, "color": "black", "opacity": 1, "strokeWidth": 0},
      "encoding": {
        "x": {"field": "wavelength2", "type": "quantitative", "scale": {"domain": [345, 358], "nice": false, "zero": false}},
        "y": {"field": "value2", "type": "quantitative", "scale": {"domain": [-1, 1], "nice": false, "zero": false}}
      }
    },
    {
      "data": {"name": "arrows"},
      "transform": [{"filter": "datum.series === '0.8 nm res., stretched by 5%'"}],
      "mark": {"type": "point", "shape": "M0,0L-2,-0.55L-2,0.55Z", "filled": true, "size": 256, "angle": 233.4, "color": "black", "opacity": 1, "strokeWidth": 0},
      "encoding": {
        "x": {"field": "wavelength2", "type": "quantitative", "scale": {"domain": [345, 358], "nice": false, "zero": false}},
        "y": {"field": "value2", "type": "quantitative", "scale": {"domain": [-1, 1], "nice": false, "zero": false}}
      }
    },
    {
      "data": {"name": "notes"},
      "mark": {"type": "text", "align": "left", "baseline": "alphabetic", "fontSize": 27, "font": "Liberation Sans"},
      "encoding": {
        "x": {"field": "wavelength", "type": "quantitative", "scale": {"domain": [345, 358], "nice": false, "zero": false}},
        "y": {"field": "value", "type": "quantitative", "scale": {"domain": [-1, 1], "nice": false, "zero": false}},
        "text": {"field": "text"},
        "color": {"field": "series", "type": "nominal", "legend": null}
      }
    }
  ]
}
